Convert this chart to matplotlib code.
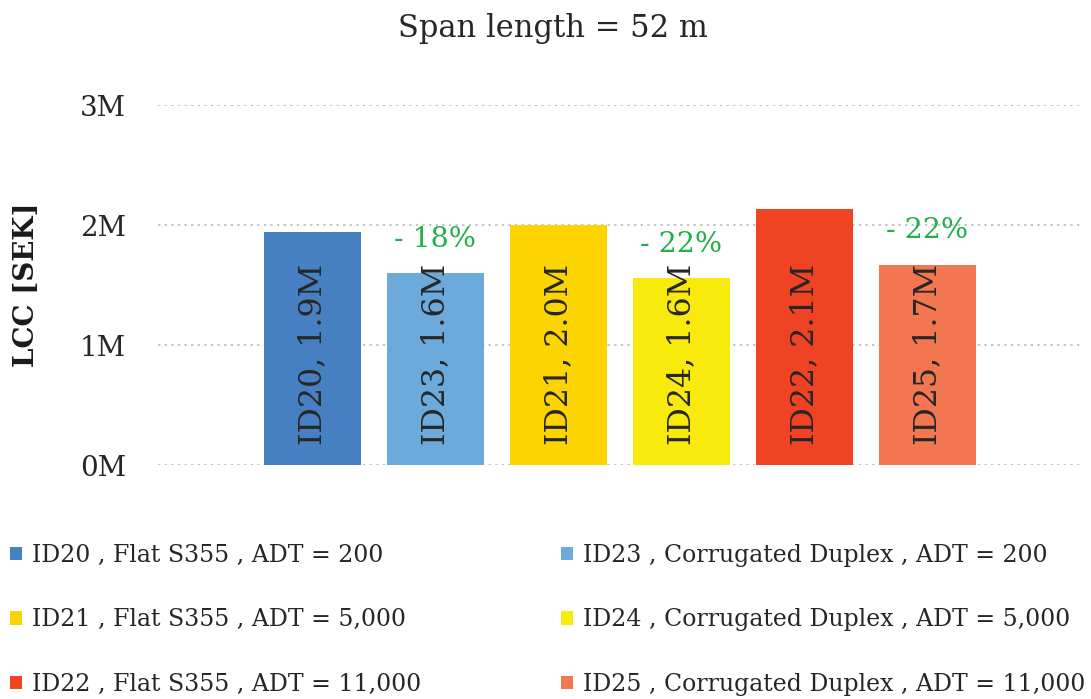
import matplotlib
matplotlib.use("Agg")
import matplotlib.pyplot as plt
from matplotlib.patches import Patch
from matplotlib.ticker import FuncFormatter

plt.rcParams['font.family'] = ['DejaVu Serif']

# LCC per design alternative, in million SEK
ids = ["ID20", "ID23", "ID21", "ID24", "ID22", "ID25"]
lcc = [1.94, 1.60, 2.00, 1.56, 2.13, 1.67]
bar_labels = ["ID20, 1.9M", "ID23, 1.6M", "ID21, 2.0M", "ID24, 1.6M", "ID22, 2.1M", "ID25, 1.7M"]
legend_labels = [
    "ID20 , Flat S355 , ADT = 200",
    "ID23 , Corrugated Duplex , ADT = 200",
    "ID21 , Flat S355 , ADT = 5,000",
    "ID24 , Corrugated Duplex , ADT = 5,000",
    "ID22 , Flat S355 , ADT = 11,000",
    "ID25 , Corrugated Duplex , ADT = 11,000",
]
colors = ["#4680C2", "#6CAADC", "#FCD500", "#F9EA0E", "#EF4323", "#F27650"]

# savings of the corrugated duplex option relative to the flat S355 option
saving_idx = [1, 3, 5]
saving_labels = ["- 18%", "- 22%", "- 22%"]

yticks = [0, 1, 2, 3]

fig = plt.figure(figsize=(10.91, 6.99), dpi=100)
ax = fig.add_axes([158 / 1091, 234 / 699, (1080 - 158) / 1091, 360 / 699])

x = list(range(len(ids)))
ax.bar(x, lcc, width=0.79, color=colors, zorder=2)

for xi, lab in zip(x, bar_labels):
    ax.text(xi, 0.165, lab, rotation=90, ha="center", va="bottom",
            fontsize=22.8, color="#262626", zorder=3)

for i, lab in zip(saving_idx, saving_labels):
    ax.text(x[i], lcc[i] + 0.28, lab, ha="center", va="center",
            fontsize=20.5, color="#22B04B", zorder=3)

ax.set_xlim(-1.256, 6.24)
ax.set_ylim(0, 3)
ax.set_yticks(yticks)
ax.yaxis.set_major_formatter(FuncFormatter(lambda v, p: f"{v:.0f}M"))
ax.set_xticks([])
ax.tick_params(axis="y", length=0, pad=23, labelsize=20, labelcolor="#262626")
for s in ax.spines.values():
    s.set_visible(False)
ax.grid(axis="y", color="#c4c4c4", linestyle=(0, (1.2, 2.2)), linewidth=1.4, zorder=0)
ax.set_axisbelow(True)

ax.set_ylabel("LCC [SEK]", fontsize=20, fontweight="bold", labelpad=29, color="#1a1a1a")
fig.text(553 / 1091, 1 - 29 / 699, "Span length = 52 m", ha="center", va="center",
         fontsize=22, color="#262626")

order = [0, 2, 4, 1, 3, 5]
handles = [Patch(facecolor=colors[i]) for i in order]
labels = [legend_labels[i] for i in order]
fig.legend(handles, labels, ncol=2, loc="upper left", bbox_to_anchor=(10 / 1091, 1 - 544 / 699),
           frameon=False, prop={"family": "DejaVu Serif", "size": 17},
           borderpad=0, borderaxespad=0,
           handlelength=0.5, handleheight=0.5, handletextpad=0.45,
           labelspacing=1.75, columnspacing=5.9, labelcolor="#262626")

fig.savefig("out.png", dpi=100)
